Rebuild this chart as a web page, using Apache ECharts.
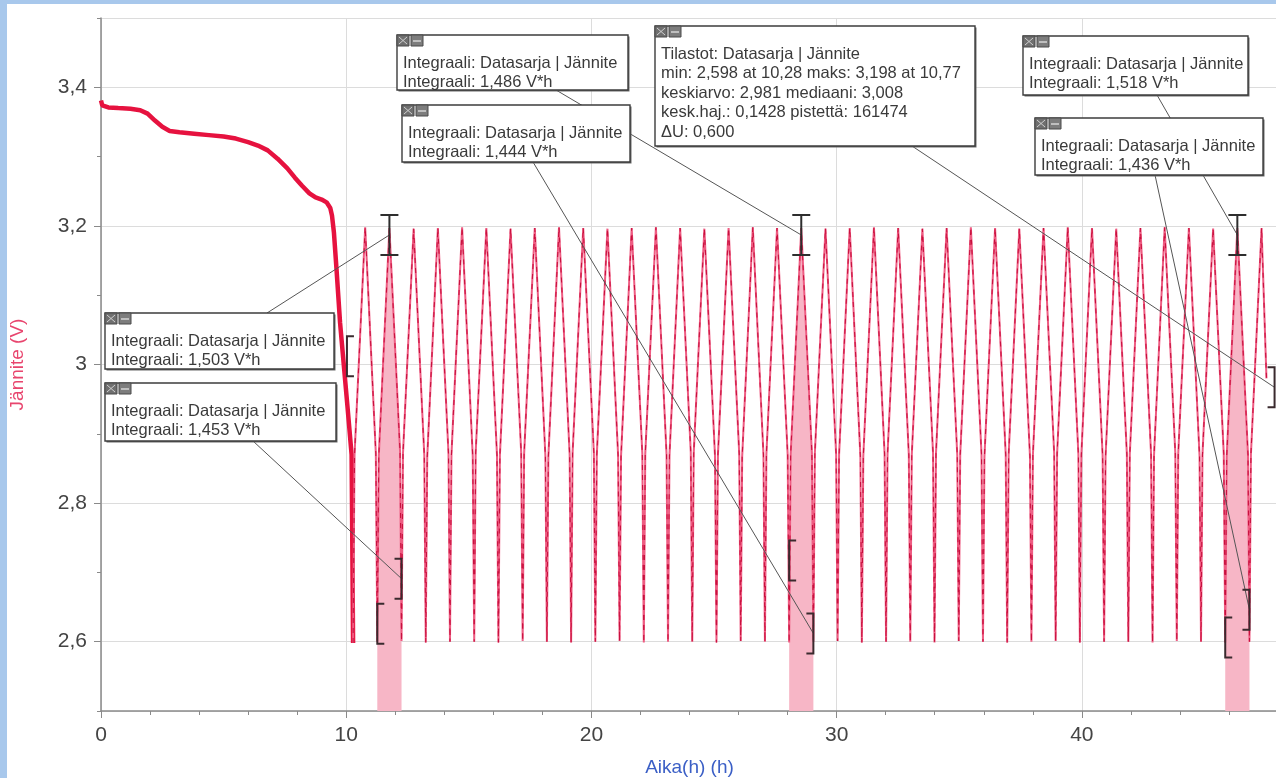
<!DOCTYPE html>
<html>
<head>
<meta charset="utf-8">
<script src="https://cdn.jsdelivr.net/npm/echarts@6/dist/echarts.min.js"></script>
<style>
  html, body { margin: 0; padding: 0; width: 1276px; height: 778px; overflow: hidden; background: #a8c8ec; }
  #chart { position: absolute; left: 7px; top: 4px; width: 1269px; height: 774px; background: #ffffff; }
</style>
</head>
<body>
<div id="chart"></div>
<script>
// ---------- measured data ----------
// Rest / first discharge (time in h, voltage in V)
const startTimes = [0.00, 0.05, 0.30, 0.70, 1.20, 1.60, 1.90, 2.20, 2.50, 2.80, 3.20, 3.80, 4.40, 5.00, 5.50, 6.00, 6.40, 6.80,
  7.20, 7.60, 7.90, 8.20, 8.50, 8.75, 9.00, 9.20, 9.35, 9.42, 9.50, 9.60, 9.75, 9.90, 10.05, 10.22, 10.28];
const startVolts = [3.381, 3.374, 3.371, 3.370, 3.369, 3.367, 3.362, 3.352, 3.343, 3.337, 3.335, 3.333, 3.331, 3.329, 3.326, 3.321, 3.316, 3.309,
  3.297, 3.283, 3.270, 3.258, 3.247, 3.241, 3.238, 3.234, 3.226, 3.215, 3.190, 3.140, 3.060, 3.000, 2.940, 2.870, 2.598];

// Charge / discharge cycling: trough, knee, peak, knee for each cycle
const cycleTimes = [
  10.280, 10.340, 10.774, 11.208,   11.268, 11.328, 11.762, 12.196,   12.256, 12.316, 12.750, 13.184,
  13.244, 13.304, 13.738, 14.172,   14.232, 14.292, 14.726, 15.160,   15.220, 15.280, 15.714, 16.148,
  16.208, 16.268, 16.702, 17.136,   17.196, 17.256, 17.690, 18.124,   18.184, 18.244, 18.678, 19.112,
  19.172, 19.232, 19.666, 20.100,   20.160, 20.220, 20.654, 21.088,   21.148, 21.208, 21.642, 22.076,
  22.136, 22.196, 22.630, 23.064,   23.124, 23.184, 23.618, 24.052,   24.112, 24.172, 24.606, 25.040,
  25.100, 25.160, 25.594, 26.028,   26.088, 26.148, 26.582, 27.016,   27.076, 27.136, 27.570, 28.004,
  28.064, 28.124, 28.558, 28.992,   29.052, 29.112, 29.546, 29.980,   30.040, 30.100, 30.534, 30.968,
  31.028, 31.088, 31.522, 31.956,   32.016, 32.076, 32.510, 32.944,   33.004, 33.064, 33.498, 33.932,
  33.992, 34.052, 34.486, 34.920,   34.980, 35.040, 35.474, 35.908,   35.968, 36.028, 36.462, 36.896,
  36.956, 37.016, 37.450, 37.884,   37.944, 38.004, 38.438, 38.872,   38.932, 38.992, 39.426, 39.860,
  39.920, 39.980, 40.414, 40.848,   40.908, 40.968, 41.402, 41.836,   41.896, 41.956, 42.390, 42.824,
  42.884, 42.944, 43.378, 43.812,   43.872, 43.932, 44.366, 44.800,   44.860, 44.920, 45.354, 45.788,
  45.848, 45.908, 46.342, 46.776,   46.836, 46.896, 47.330, 47.530
];
const cycleVolts = [
  2.598, 2.870, 3.198, 2.872,   2.600, 2.868, 3.197, 2.874,   2.601, 2.872, 3.196, 2.869,
  2.599, 2.866, 3.197, 2.871,   2.600, 2.870, 3.198, 2.868,   2.600, 2.873, 3.197, 2.870,
  2.599, 2.869, 3.196, 2.873,   2.601, 2.871, 3.197, 2.867,   2.600, 2.867, 3.198, 2.870,
  2.599, 2.872, 3.197, 2.872,   2.600, 2.870, 3.196, 2.869,   2.601, 2.868, 3.197, 2.871,
  2.599, 2.871, 3.198, 2.870,   2.600, 2.869, 3.197, 2.873,   2.600, 2.872, 3.196, 2.868,
  2.599, 2.870, 3.197, 2.871,   2.601, 2.867, 3.198, 2.870,   2.600, 2.871, 3.197, 2.869,
  2.599, 2.869, 3.197, 2.872,   2.600, 2.872, 3.196, 2.870,   2.601, 2.870, 3.197, 2.868,
  2.599, 2.868, 3.198, 2.871,   2.600, 2.871, 3.197, 2.870,   2.600, 2.869, 3.196, 2.872,
  2.599, 2.872, 3.197, 2.869,   2.601, 2.870, 3.198, 2.871,   2.600, 2.867, 3.197, 2.870,
  2.599, 2.871, 3.196, 2.868,   2.600, 2.869, 3.197, 2.872,   2.601, 2.872, 3.198, 2.870,
  2.599, 2.870, 3.197, 2.869,   2.600, 2.868, 3.196, 2.871,   2.600, 2.871, 3.197, 2.870,
  2.599, 2.869, 3.198, 2.872,   2.601, 2.872, 3.197, 2.868,   2.600, 2.870, 3.196, 2.871,
  2.599, 2.868, 3.197, 2.870,   2.600, 2.871, 3.197, 2.980
];

// Integration ranges (h) and their results (V*h)
const integralStart = [11.268, 28.064, 45.848];
const integralEnd   = [12.256, 29.052, 46.836];
const integralPeakBox  = [1.503, 1.486, 1.518];   // boxes pointing at the peak marker
const integralRangeBox = [1.453, 1.444, 1.436];   // boxes pointing at the range end bracket

// Statistics range and values
const statsStart = 10.03;
const statsEnd = 47.86;
const statsMean = 2.981;
const statsMedian = 3.008;
const statsStd = 0.1428;
const statsPoints = 161474;

// Axis settings
const xMin = 0, xMax = 48, xStep = 10, xMinorStep = 2;
const yMin = 2.5, yMax = 3.5, yMinorStep = 0.1;

// ---------- helpers ----------
const fmt = (v, d) => v.toFixed(d).replace('.', ',');
const zip = (a, b) => a.map((t, i) => [t, b[i]]);
const startData = zip(startTimes, startVolts);
const cycleData = zip(cycleTimes, cycleVolts);
const allData = startData.concat(cycleData);

const chart = echarts.init(document.getElementById('chart'));
const FONT = '"Liberation Sans", Arial, sans-serif';
const axisGray = '#8a8a8a';

const bandSeries = integralStart.map((s, i) => ({
  type: 'line',
  data: cycleData.filter(p => p[0] >= s - 1e-9 && p[0] <= integralEnd[i] + 1e-9),
  symbol: 'none',
  silent: true,
  lineStyle: { width: 0 },
  areaStyle: { color: '#f7b6c6', opacity: 1, origin: 'start' },
  z: 1
}));

chart.setOption({
  animation: false,
  grid: { left: 94, top: 14, width: 1177, height: 693, containLabel: false, outerBoundsMode: 'none' },
  xAxis: [{
    type: 'value', min: xMin, max: xMax, interval: xStep,
    name: 'Aika(h) (h)', nameLocation: 'middle', nameGap: 47,
    nameTextStyle: { color: '#3b5fc6', fontSize: 19, fontFamily: FONT },
    axisLine: { lineStyle: { color: axisGray, width: 1.5 } },
    axisTick: { length: 7, lineStyle: { color: axisGray } },
    axisLabel: { showMaxLabel: false, fontSize: 21, color: '#444', fontFamily: FONT, margin: 14 },
    splitLine: { show: true, lineStyle: { color: '#dcdcdc', width: 1 } }
  }, {
    type: 'value', min: xMin, max: xMax, interval: xMinorStep, position: 'bottom',
    axisLine: { show: false },
    axisTick: { length: 4, lineStyle: { color: axisGray } },
    axisLabel: { show: false }, splitLine: { show: false }
  }],
  yAxis: [{
    type: 'value', min: yMin, max: yMax, splitNumber: 5,
    name: 'Jännite (V)', nameLocation: 'middle', nameGap: 74,
    nameTextStyle: { color: '#e8456e', fontSize: 19, fontFamily: FONT },
    axisLine: { show: true, lineStyle: { color: axisGray, width: 1.5 } },
    axisTick: { show: true, length: 7, lineStyle: { color: axisGray } },
    axisLabel: {
      showMinLabel: false, showMaxLabel: false, fontSize: 21, color: '#444', fontFamily: FONT, margin: 14,
      formatter: v => String(Math.round(v * 10) / 10).replace('.', ',')
    },
    splitLine: { show: true, lineStyle: { color: '#dcdcdc', width: 1 } }
  }, {
    type: 'value', min: yMin, max: yMax, interval: yMinorStep, position: 'left', offset: 0,
    axisLine: { show: false },
    axisTick: { show: true, length: 4, lineStyle: { color: axisGray } },
    axisLabel: { show: false }, splitLine: { show: false }
  }],
  series: bandSeries.concat([
    { type: 'line', name: 'Jännite', data: startData, symbol: 'none', silent: true,
      lineStyle: { color: '#e6123f', width: 4.5 }, z: 3 },
    { type: 'line', name: 'Jännite', data: cycleData, symbol: 'none', silent: true,
      lineStyle: { color: '#ee5c82', width: 2 }, z: 3 },
    { type: 'line', name: 'Jännite', data: cycleData, symbol: 'none', silent: true,
      lineStyle: { color: '#c8103e', width: 1.1, type: [5, 5] }, z: 4 }
  ])
});

// ---------- annotations (Logger Pro style boxes) ----------
const toPx = (t, v) => chart.convertToPixel({ xAxisIndex: 0, yAxisIndex: 0 }, [t, v]);

// Statistics computed over the marked range
const inStats = allData.filter(p => p[0] >= statsStart && p[0] <= statsEnd);
let minP = inStats[0], maxP = inStats[0];
inStats.forEach(p => { if (p[1] < minP[1]) minP = p; if (p[1] > maxP[1]) maxP = p; });

// Peak inside each integration range
const bandPeaks = integralStart.map((s, i) => {
  let best = null;
  cycleData.forEach(p => { if (p[0] >= s && p[0] <= integralEnd[i] && (!best || p[1] > best[1])) best = p; });
  return best;
});

// Bracket heights (V) for range handles
const bracketLevels = [
  { open: 2.626, close: 2.691 },
  { open: 2.717, close: 2.612 },
  { open: 2.606, close: 2.646 }
];
const statsBracket = { open: 3.012, close: 2.967 };

const G = [];
const INK = '#2e2e2e';
function iBeam(cx, cy) {
  G.push({ type: 'line', shape: { x1: cx, y1: cy - 20, x2: cx, y2: cy + 20 }, style: { stroke: INK, lineWidth: 2 }, z: 55, silent: true });
  G.push({ type: 'line', shape: { x1: cx - 9, y1: cy - 20, x2: cx + 9, y2: cy - 20 }, style: { stroke: INK, lineWidth: 2 }, z: 55, silent: true });
  G.push({ type: 'line', shape: { x1: cx - 9, y1: cy + 20, x2: cx + 9, y2: cy + 20 }, style: { stroke: INK, lineWidth: 2 }, z: 55, silent: true });
}
function bracket(x, cy, dir) {
  // dir = +1 for "[" (ticks to the right), -1 for "]" (ticks to the left)
  G.push({ type: 'polyline', shape: { points: [[x + dir * 7, cy - 20], [x, cy - 20], [x, cy + 20], [x + dir * 7, cy + 20]] },
    style: { stroke: '#3a2a2e', lineWidth: 2, fill: null }, z: 55, silent: true });
}
function leader(x1, y1, x2, y2) {
  G.push({ type: 'line', shape: { x1, y1, x2, y2 }, style: { stroke: '#555', lineWidth: 1 }, z: 50, silent: true });
}
function box(b, lines) {
  G.push({ type: 'rect', shape: { x: b.x + 1.5, y: b.y + 1.5, width: b.w, height: b.h }, style: { fill: '#6a6a6a' }, z: 60, silent: true });
  G.push({ type: 'rect', shape: { x: b.x, y: b.y, width: b.w, height: b.h }, style: { fill: '#fff', stroke: '#3c3c3c', lineWidth: 1.4 }, z: 61, silent: true });
  // close / minimise icons
  G.push({ type: 'rect', shape: { x: b.x, y: b.y, width: 12, height: 11 }, style: { fill: '#6f6f6f', stroke: '#4a4a4a', lineWidth: 1 }, z: 62, silent: true });
  G.push({ type: 'polyline', shape: { points: [[b.x + 2, b.y + 2], [b.x + 10, b.y + 9]] }, style: { stroke: '#cfcfcf', lineWidth: 1 }, z: 63, silent: true });
  G.push({ type: 'polyline', shape: { points: [[b.x + 10, b.y + 2], [b.x + 2, b.y + 9]] }, style: { stroke: '#cfcfcf', lineWidth: 1 }, z: 63, silent: true });
  G.push({ type: 'rect', shape: { x: b.x + 14, y: b.y, width: 12, height: 11 }, style: { fill: '#7d7d7d', stroke: '#4a4a4a', lineWidth: 1 }, z: 62, silent: true });
  G.push({ type: 'line', shape: { x1: b.x + 16, y1: b.y + 6, x2: b.x + 24, y2: b.y + 6 }, style: { stroke: '#d6d6d6', lineWidth: 1.5 }, z: 63, silent: true });
  lines.forEach((txt, i) => {
    G.push({ type: 'text', x: b.x + 6, y: b.y + 28 + i * 19.5, silent: true, z: 64,
      style: { text: txt, fill: '#3a3a3a', font: '16.5px ' + FONT, align: 'left', verticalAlign: 'middle' } });
  });
}

// Box layout in container pixels: x, y, width, height, leader attachment offset and edge
const peakBoxes = [
  { x: 98, y: 309, w: 229, h: 56, ax: 162, edge: 'top' },
  { x: 390, y: 31, w: 231, h: 55, ax: 159, edge: 'bottom' },
  { x: 1016, y: 32, w: 225, h: 59, ax: 134, edge: 'bottom' }
];
const rangeBoxes = [
  { x: 98, y: 379, w: 231, h: 58, ax: 148, edge: 'bottom' },
  { x: 395, y: 101, w: 228, h: 57, ax: 131, edge: 'bottom' },
  { x: 1028, y: 114, w: 228, h: 57, ax: 120, edge: 'bottom' }
];
const statsBox = { x: 648, y: 22, w: 320, h: 120, ax: 257, edge: 'bottom' };
const attach = b => [b.x + b.ax, b.edge === 'top' ? b.y : b.y + b.h];

integralStart.forEach((s, i) => {
  const pk = toPx(bandPeaks[i][0], bandPeaks[i][1]);
  const beam = [pk[0], pk[1] + 7];
  iBeam(beam[0], beam[1]);
  const lo = toPx(s, bracketLevels[i].open);
  const hi = toPx(integralEnd[i], bracketLevels[i].close);
  bracket(lo[0], lo[1], 1);
  bracket(hi[0], hi[1], -1);
  const a1 = attach(peakBoxes[i]);
  leader(a1[0], a1[1], beam[0], beam[1]);
  const a2 = attach(rangeBoxes[i]);
  leader(a2[0], a2[1], hi[0], hi[1]);
  const title = 'Integraali: Datasarja | Jännite';
  box(peakBoxes[i], [title, 'Integraali: ' + fmt(integralPeakBox[i], 3) + ' V*h']);
  box(rangeBoxes[i], [title, 'Integraali: ' + fmt(integralRangeBox[i], 3) + ' V*h']);
});

const sLo = toPx(statsStart, statsBracket.open);
const sHi = toPx(statsEnd, statsBracket.close);
bracket(sLo[0], sLo[1], 1);
bracket(sHi[0], sHi[1], -1);
const sa = attach(statsBox);
leader(sa[0], sa[1], sHi[0], sHi[1]);
box(statsBox, [
  'Tilastot: Datasarja | Jännite',
  'min: ' + fmt(minP[1], 3) + ' at ' + fmt(minP[0], 2) + ' maks: ' + fmt(maxP[1], 3) + ' at ' + fmt(maxP[0], 2),
  'keskiarvo: ' + fmt(statsMean, 3) + ' mediaani: ' + fmt(statsMedian, 3),
  'kesk.haj.: ' + fmt(statsStd, 4) + ' pistettä: ' + statsPoints,
  'ΔU: ' + fmt(maxP[1] - minP[1], 3)
]);

chart.setOption({ graphic: G });
</script>
</body>
</html>
